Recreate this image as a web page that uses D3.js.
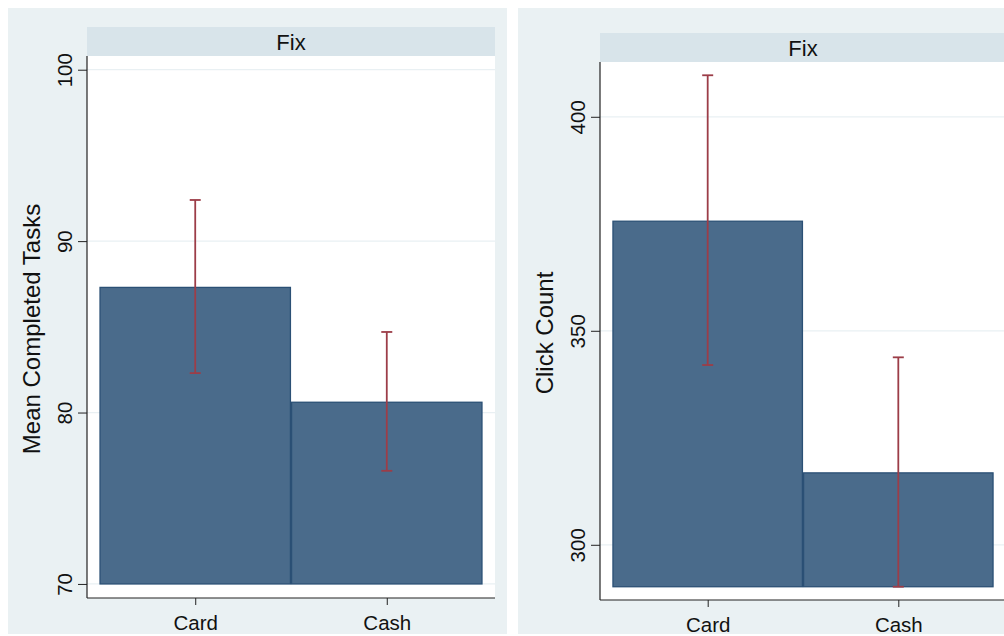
<!DOCTYPE html>
<html><head><meta charset="utf-8">
<script src="https://cdn.jsdelivr.net/npm/d3@7"></script>
<style>
html,body{margin:0;padding:0;background:#fff;overflow:hidden;}
svg{display:block;font-family:"Liberation Sans",Arial,Helvetica,sans-serif;}
</style></head>
<body>
<svg id="chart" width="1004" height="636"></svg>
<script>
const categories = ["Card", "Cash"];
const tasksMean = [87.3, 80.6];
const tasksLo = [82.3, 76.6];
const tasksHi = [92.4, 84.7];
const clicksMean = [375.6, 316.8];
const clicksLo = [342.0, 290.2];
const clicksHi = [409.7, 343.8];
const tasksTicks = [70, 80, 90, 100];
const clicksTicks = [300, 350, 400];
const stripLabel = "Fix";

const svg = d3.select("#chart");

const C = {
  bg: "#eaf1f3", strip: "#d8e4ea", plot: "#ffffff", grid: "#e9f0f3",
  bar: "#4a6b8b", barStroke: "#2b5075", err: "#9c3d48", axis: "#222", text: "#111"
};

function panel(cfg) {
  const g = svg.append("g");
  g.append("rect").attr("x", cfg.bx).attr("y", cfg.by).attr("width", cfg.bw).attr("height", cfg.bh).attr("fill", C.bg);
  // strip
  g.append("rect").attr("x", cfg.x0).attr("y", cfg.stripTop).attr("width", cfg.x1 - cfg.x0).attr("height", cfg.y0 - cfg.stripTop).attr("fill", C.strip);
  g.append("text").attr("x", (cfg.x0 + cfg.x1) / 2).attr("y", cfg.stripTop + (cfg.y0 - cfg.stripTop) / 2 + 8)
    .attr("text-anchor", "middle").attr("font-size", 22).attr("fill", C.text).text(stripLabel);
  // plot region
  g.append("rect").attr("x", cfg.x0).attr("y", cfg.y0).attr("width", cfg.x1 - cfg.x0).attr("height", cfg.y1 - cfg.y0).attr("fill", C.plot);

  const x = d3.scaleLinear().domain([0.435, 2.565]).range([cfg.x0, cfg.x1]);
  const y = d3.scaleLinear().domain(cfg.ydom).range([cfg.y1, cfg.y0]);

  // grid
  g.selectAll(".grid").data(cfg.ticks).join("line")
    .attr("x1", cfg.x0).attr("x2", cfg.x1).attr("y1", d => y(d)).attr("y2", d => y(d))
    .attr("stroke", C.grid).attr("stroke-width", 1.2);

  // bars
  g.selectAll(".bar").data(categories).join("rect")
    .attr("x", (d, i) => x(i + 1 - 0.497))
    .attr("width", x(1.497) - x(0.503))
    .attr("y", (d, i) => y(cfg.mean[i]))
    .attr("height", (d, i) => y(cfg.base) - y(cfg.mean[i]))
    .attr("fill", C.bar).attr("stroke", C.barStroke).attr("stroke-width", 1.3);

  // error bars
  const eg = g.selectAll(".err").data(categories).join("g");
  eg.append("line").attr("x1", (d, i) => x(i + 1)).attr("x2", (d, i) => x(i + 1))
    .attr("y1", (d, i) => y(cfg.lo[i])).attr("y2", (d, i) => y(cfg.hi[i]))
    .attr("stroke", C.err).attr("stroke-width", 1.8);
  eg.append("line").attr("x1", (d, i) => x(i + 1) - 5.5).attr("x2", (d, i) => x(i + 1) + 5.5)
    .attr("y1", (d, i) => y(cfg.hi[i])).attr("y2", (d, i) => y(cfg.hi[i]))
    .attr("stroke", C.err).attr("stroke-width", 1.8);
  eg.append("line").attr("x1", (d, i) => x(i + 1) - 5.5).attr("x2", (d, i) => x(i + 1) + 5.5)
    .attr("y1", (d, i) => y(cfg.lo[i])).attr("y2", (d, i) => y(cfg.lo[i]))
    .attr("stroke", C.err).attr("stroke-width", 1.8);

  // y axis
  const ya = g.append("g").attr("transform", `translate(${cfg.x0},0)`)
    .call(d3.axisLeft(y).tickValues(cfg.ticks).tickSize(9).tickSizeOuter(0).tickFormat(d3.format("d")));
  ya.select(".domain").remove();
  ya.attr("font-family", null);
  ya.selectAll(".tick line").attr("stroke", C.axis);
  ya.selectAll(".tick text").attr("font-size", 20.5).attr("fill", C.text)
    .attr("transform", "rotate(-90)").attr("x", 0).attr("y", -15).attr("dy", 0)
    .attr("text-anchor", "middle");
  g.append("line").attr("x1", cfg.x0).attr("x2", cfg.x0).attr("y1", cfg.y0).attr("y2", cfg.y1)
    .attr("stroke", C.axis).attr("stroke-width", 1.2);

  // x axis
  const xa = g.append("g").attr("transform", `translate(0,${cfg.y1})`)
    .call(d3.axisBottom(x).tickValues([1, 2]).tickSize(7).tickSizeOuter(0).tickFormat((d) => categories[d - 1]));
  xa.select(".domain").remove();
  xa.attr("font-family", null);
  xa.selectAll(".tick line").attr("stroke", C.axis);
  xa.selectAll(".tick text").attr("font-size", 20.5).attr("fill", C.text).attr("y", 32).attr("dy", 0);
  g.append("line").attr("x1", cfg.x0).attr("x2", cfg.x1).attr("y1", cfg.y1).attr("y2", cfg.y1)
    .attr("stroke", C.axis).attr("stroke-width", 1.2);

  // y title
  g.append("text").attr("transform", `translate(${cfg.x0 - 47},${(cfg.y0 + cfg.y1) / 2 + 2}) rotate(-90)`)
    .attr("text-anchor", "middle").attr("font-size", 24).attr("fill", C.text).text(cfg.title);
}

panel({
  bx: 8, by: 8, bw: 499, bh: 626,
  x0: 87, x1: 495, y0: 56, y1: 598, stripTop: 27,
  ydom: [69.18, 100.8], ticks: tasksTicks, base: 70,
  mean: tasksMean, lo: tasksLo, hi: tasksHi, title: "Mean Completed Tasks"
});

panel({
  bx: 518, by: 8, bw: 500, bh: 626,
  x0: 600, x1: 1006, y0: 62, y1: 600, stripTop: 33,
  ydom: [287.1, 412.8], ticks: clicksTicks, base: 290.2,
  mean: clicksMean, lo: clicksLo, hi: clicksHi, title: "Click Count"
});
</script>
</body></html>
